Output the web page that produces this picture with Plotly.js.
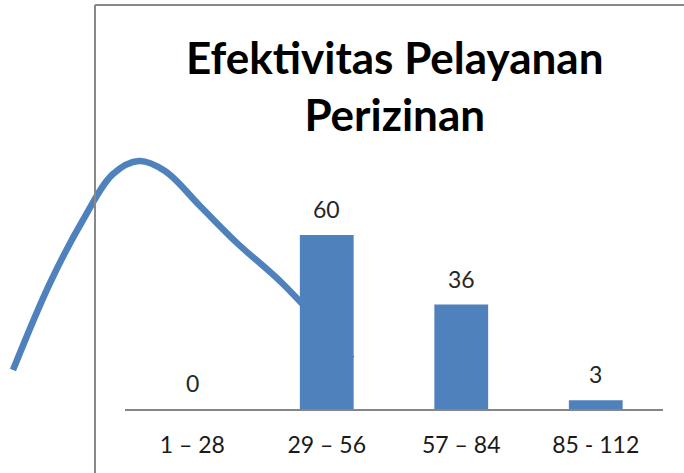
<!DOCTYPE html>
<html>
<head>
<meta charset="utf-8">
<script src="https://cdn.plot.ly/plotly-3.0.1.min.js"></script>
<style>html,body{margin:0;padding:0;background:#fff;}#chart{width:684px;height:473px;}</style>
</head>
<body>
<div id="chart"></div>
<script>
var categories = ["1 – 28", "29 – 56", "57 – 84", "85 - 112"];
var counts = [0, 60, 36, 3];
var curveX = [13, 50, 83, 113, 139, 165, 200, 237, 283, 352];
var curveY = [370, 283, 220, 174, 161, 171, 206, 243, 284, 359];
var titleText = "Efektivitas Pelayanan<br>Perizinan";

var blue = "#4F81BD";
var FONT = "Lato, 'Open Sans', sans-serif";

var markerSizes = curveX.map(function(_, i){ return i === curveX.length - 1 ? 14 : 0; });

var curveTrace = {
  type: "scatter", mode: "lines+markers",
  x: curveX, y: curveY, xaxis: "x", yaxis: "y",
  line: {color: blue, width: 6.5, shape: "spline", smoothing: 1},
  marker: {color: blue, size: markerSizes, symbol: "arrow", angleref: "previous"},
  hoverinfo: "skip", showlegend: false
};

var barTrace = {
  type: "bar", x: categories, y: counts, xaxis: "x2", yaxis: "y2",
  marker: {color: blue, line: {width: 0}}, width: 0.4,
  hoverinfo: "skip", showlegend: false
};

var labelAnnots = categories.map(function(c, i){
  return {
    xref: "x2", yref: "y2", x: c, y: counts[i], text: String(counts[i]),
    showarrow: false, yanchor: "middle", yshift: 26,
    font: {family: FONT, size: 23, color: "#262626"}
  };
});
labelAnnots.push({
  xref: "paper", yref: "paper", x: 394/684, y: 1 - 85/473, text: titleText,
  showarrow: false, xanchor: "center", yanchor: "middle",
  font: {family: FONT, size: 44, color: "#000", weight: "bold"}
});

var layout = {
  width: 684, height: 473,
  margin: {l: 0, r: 0, t: 0, b: 0},
  paper_bgcolor: "#fff", plot_bgcolor: "rgba(0,0,0,0)",
  showlegend: false,
  xaxis: {domain: [0, 1], range: [0, 684], visible: false, fixedrange: true},
  yaxis: {domain: [0, 1], range: [473, 0], visible: false, fixedrange: true},
  xaxis2: {domain: [125/684, 663/684], anchor: "y2", type: "category",
    showline: true, linecolor: "#868686", linewidth: 2, showgrid: false, zeroline: false,
    ticks: "", ticklabelstandoff: 14,
    tickfont: {family: FONT, size: 23, color: "#1a1a1a"}},
  yaxis2: {domain: [64/473, 267/473], anchor: "x2", range: [0, 70],
    visible: false, showgrid: false, zeroline: false},
  annotations: labelAnnots,
  shapes: [
    {type: "line", xref: "paper", yref: "paper", x0: 95/684, x1: 1.01, y0: 1 - 5/473, y1: 1 - 5/473,
      line: {color: "#888888", width: 2}},
    {type: "line", xref: "paper", yref: "paper", x0: 95/684, x1: 95/684, y0: 1 - 5/473, y1: -0.01,
      line: {color: "#888888", width: 2}}
  ]
};

Plotly.newPlot("chart", [curveTrace, barTrace], layout, {staticPlot: true, displayModeBar: false});
</script>
</body>
</html>
